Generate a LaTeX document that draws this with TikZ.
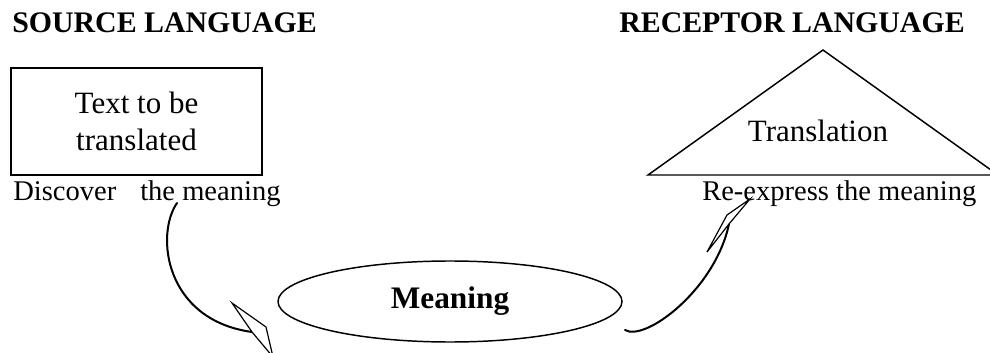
\documentclass[tikz,border=0pt]{standalone}
\usepackage{fontspec}
\setmainfont{Liberation Serif}
\usetikzlibrary{shapes.geometric}
\begin{document}
\begin{tikzpicture}[x=0.75pt,y=-0.75pt,
  heading/.style={font=\fontsize{22.4}{27}\selectfont\bfseries, anchor=base west, inner sep=0pt},
  caption/.style={font=\fontsize{21.4}{25}\selectfont, anchor=base west, inner sep=0pt},
  boxtext/.style={font=\fontsize{23.25}{27.75}\selectfont, align=center, inner sep=0pt},
  outline/.style={line width=1.1pt},
  bendline/.style={line width=1.5pt, line cap=round},
  arrowhead/.style={line width=0.9pt, line join=miter, fill=white}]
\useasboundingbox (0,0) rectangle (990,353);

% headings
\node[heading] (srch) at (12,33) {SOURCE LANGUAGE};
\node[heading] (rech) at (619,33) {RECEPTOR LANGUAGE};

% source text box
\node[draw, outline, boxtext, minimum width=188.25pt, minimum height=80.25pt] (src) at (136.5,121.5) {Text to be\\translated};

% receptor triangle
\coordinate (tl) at (648,175);
\coordinate (tt) at (823,50);
\coordinate (tr) at (998,175);
\draw[outline, line join=miter] (tl) -- (tt) -- (tr) -- cycle;
\node[boxtext, anchor=base] (trans) at (818,142) {Translation};

% captions
\node[caption] (disc) at (13,200) {Discover\hspace{18pt}the meaning};
\node[caption] (reex) at (702,200) {Re-express the meaning};

% meaning ellipse
\node[ellipse, draw, outline, minimum width=258pt, minimum height=60.75pt, inner sep=0pt,
      font=\fontsize{23.5}{27}\selectfont\bfseries] (mean) at (450,301.5) {Meaning};

% left curved arrow
\coordinate (ls) at (177,203);
\coordinate (lj) at (252,332);
\coordinate (la) at (232,303);
\coordinate (lb) at (266,327);
\coordinate (lt) at (273,357);
\draw[bendline] (ls) .. controls (155,235) and (165,320) .. (lj);
\draw[arrowhead] (lt) -- (lb) -- (la) -- (lj) -- cycle;

% right curved arrow
\coordinate (rs) at (625,330);
\coordinate (rj) at (729,224);
\coordinate (rp) at (727,215);
\coordinate (rb) at (707,252);
\coordinate (rt) at (750,199);
\draw[bendline] (rs) .. controls (645,342) and (715,290) .. (rj);
\draw[arrowhead] (rt) -- (rp) -- (rb) -- (rj) -- cycle;
\end{tikzpicture}
\end{document}
